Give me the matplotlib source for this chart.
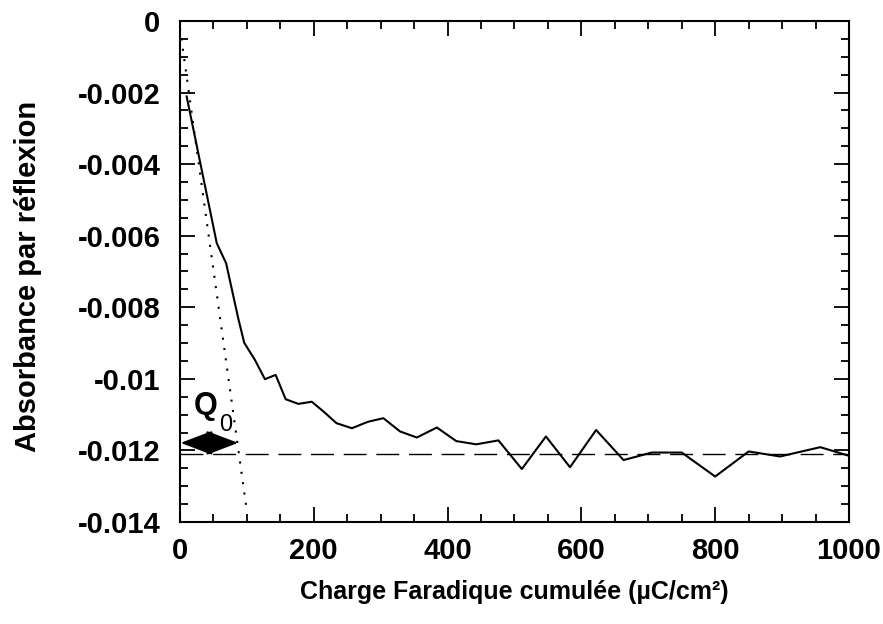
import numpy as np
import matplotlib
matplotlib.use("Agg")
import matplotlib.pyplot as plt
from matplotlib.ticker import MultipleLocator

plt.rcParams['font.family'] = ['Liberation Sans', 'DejaVu Sans']

# absorbance vs cumulated faradaic charge
charge = [10, 55, 69, 87, 96, 112, 127, 143, 158, 177, 197, 215, 234, 257,
          281, 304, 329, 354, 384, 413, 443, 476, 511, 547, 583, 622, 663,
          705, 750, 800, 850, 897, 957, 1000]
absorb = [-0.00211, -0.00621, -0.00677, -0.0083, -0.00899, -0.00947, -0.01001,
          -0.00989, -0.01057, -0.0107, -0.01064, -0.01092, -0.01124, -0.01138,
          -0.0112, -0.0111, -0.01147, -0.01164, -0.01136, -0.01174, -0.01183,
          -0.01172, -0.01252, -0.01161, -0.01247, -0.01143, -0.01227, -0.01206,
          -0.01206, -0.01273, -0.01203, -0.01217, -0.01191, -0.01215]

# initial tangent (dotted) and plateau (dashed)
tangent_x = [0, 100]
tangent_y = [-0.0002, -0.0137]
plateau = -0.0121
q0_end = 87
q0_y = -0.01179

fig = plt.figure(figsize=(8.83, 6.24), dpi=100)
ax = fig.add_axes([0.2038, 0.1635, 0.7577, 0.8029])

ax.plot(charge, absorb, color='black', lw=1.5)
ax.plot(tangent_x, tangent_y, color='black', lw=1.5, linestyle=(0, (1, 4)))
ax.axhline(plateau, color='black', lw=1.0, dashes=(16.5, 7))

ax.annotate('', xy=(1, q0_y), xytext=(q0_end, q0_y),
            arrowprops=dict(arrowstyle='<|-|>,head_length=1.0,head_width=0.38',
                            color='black', lw=1.5, shrinkA=0, shrinkB=0,
                            mutation_scale=20))
ax.text(38, -0.01077, 'Q', fontsize=22, fontweight='bold', ha='center', va='center')
ax.text(68, -0.01128, '0', fontsize=17, ha='center', va='center')

ax.set_xlim(0, 1000)
ax.set_ylim(-0.014, 0)
ax.xaxis.set_major_locator(MultipleLocator(200))
ax.xaxis.set_minor_locator(MultipleLocator(50))
ax.yaxis.set_major_locator(MultipleLocator(0.002))
ax.yaxis.set_minor_locator(MultipleLocator(0.0005))
ax.set_yticks([0, -0.002, -0.004, -0.006, -0.008, -0.01, -0.012, -0.014])
ax.set_yticklabels(['0', '-0.002', '-0.004', '-0.006', '-0.008', '-0.01',
                    '-0.012', '-0.014'])
ax.set_xticks([0, 200, 400, 600, 800, 1000])
ax.set_xticklabels(['0', '200', '400', '600', '800', '1000'])

ax.tick_params(which='both', direction='in', top=True, right=True, width=1.3)
ax.tick_params(which='major', length=11)
ax.tick_params(which='minor', length=6)
ax.tick_params(axis='x', which='major', pad=11)
ax.tick_params(axis='y', which='major', pad=14)
for lab in ax.get_xticklabels() + ax.get_yticklabels():
    lab.set_fontsize(21)
    lab.set_fontweight('bold')
for sp in ax.spines.values():
    sp.set_linewidth(1.5)

ax.set_xlabel('Charge Faradique cumulée (µC/cm²)', fontsize=18, fontweight='bold')
ax.set_ylabel('Absorbance par réflexion', fontsize=21, fontweight='bold')
ax.xaxis.label.set_va('center')
ax.yaxis.label.set_va('center')
ax.xaxis.set_label_coords(0.5, -0.140)
ax.yaxis.set_label_coords(-0.227, 0.49)

fig.savefig('out.png', dpi=100)
